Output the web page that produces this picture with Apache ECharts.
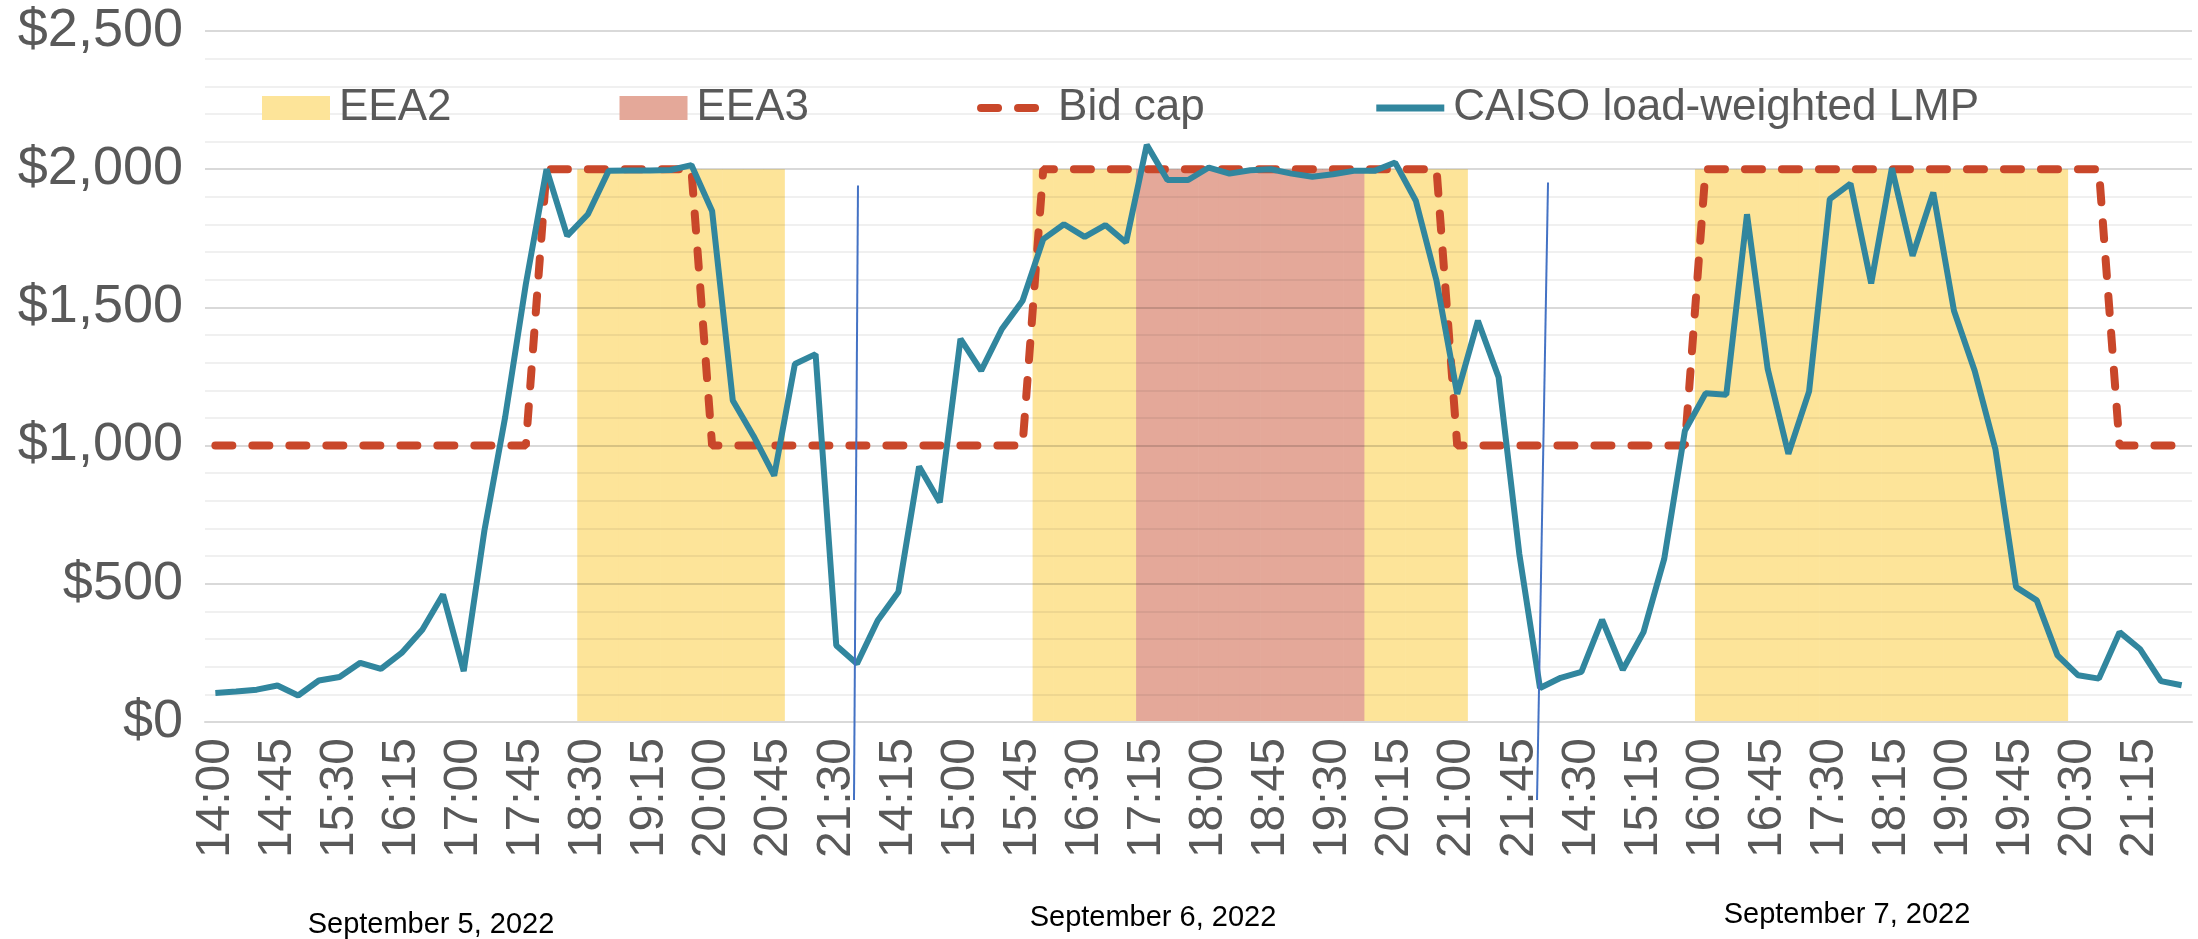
<!DOCTYPE html>
<html>
<head>
<meta charset="utf-8">
<script src="https://cdn.jsdelivr.net/npm/echarts@6/dist/echarts.min.js"></script>
<style>
  html, body { margin: 0; padding: 0; background: #fff; }
  #chart { width: 2198px; height: 939px; }
</style>
</head>
<body>
<div id="chart"></div>
<script>
// 15-minute intervals, 14:00 - 21:45, one block per day
const dayTimes = [
  "14:00", "14:15", "14:30", "14:45", "15:00", "15:15", "15:30", "15:45",
  "16:00", "16:15", "16:30", "16:45", "17:00", "17:15", "17:30", "17:45",
  "18:00", "18:15", "18:30", "18:45", "19:00", "19:15", "19:30", "19:45",
  "20:00", "20:15", "20:30", "20:45", "21:00", "21:15", "21:30", "21:45"
];
const days = ["September 5, 2022", "September 6, 2022", "September 7, 2022"];
const categories = [].concat(dayTimes, dayTimes, dayTimes);

// CAISO load-weighted LMP ($/MWh)
const lmpDay1 = [105, 110, 117, 132, 96, 150, 163, 214, 192, 250, 334, 461, 184, 693, 1102, 1584,
  2000, 1759, 1837, 1994, 1995, 1995, 1997, 2015, 1849, 1163, 1035, 891, 1295, 1331, 277, 211];
const lmpDay2 = [367, 470, 924, 795, 1386, 1271, 1422, 1524, 1747, 1801, 1755, 1798, 1735, 2088, 1961, 1961,
  2006, 1984, 1996, 2000, 1984, 1973, 1982, 1994, 1994, 2024, 1886, 1596, 1187, 1452, 1247, 608];
const lmpDay3 = [123, 160, 181, 370, 189, 325, 590, 1054, 1189, 1184, 1837, 1277, 970, 1196, 1892, 1948,
  1587, 2004, 1687, 1916, 1488, 1271, 988, 488, 440, 241, 169, 157, 325, 263, 148, 133];

// Bid cap ($/MWh)
const bidCapDay1 = [1000, 1000, 1000, 1000, 1000, 1000, 1000, 1000, 1000, 1000, 1000, 1000, 1000, 1000, 1000, 1000,
  2000, 2000, 2000, 2000, 2000, 2000, 2000, 2000, 1000, 1000, 1000, 1000, 1000, 1000, 1000, 1000];
const bidCapDay2 = [1000, 1000, 1000, 1000, 1000, 1000, 1000, 1000, 2000, 2000, 2000, 2000, 2000, 2000, 2000, 2000,
  2000, 2000, 2000, 2000, 2000, 2000, 2000, 2000, 2000, 2000, 2000, 2000, 1000, 1000, 1000, 1000];
const bidCapDay3 = [1000, 1000, 1000, 1000, 1000, 1000, 1000, 1000, 2000, 2000, 2000, 2000, 2000, 2000, 2000, 2000,
  2000, 2000, 2000, 2000, 2000, 2000, 2000, 2000, 2000, 2000, 2000, 2000, 1000, 1000, 1000, 1000];

// emergency alert shading (drawn to $2,000), '-' = no alert
const eea2Day1 = ["-", "-", "-", "-", "-", "-", "-", "-", "-", "-", "-", "-", "-", "-", "-", "-",
  "-", "-", 2000, 2000, 2000, 2000, 2000, 2000, 2000, 2000, 2000, 2000, "-", "-", "-", "-"];
const eea2Day2 = ["-", "-", "-", "-", "-", "-", "-", "-", 2000, 2000, 2000, 2000, 2000, "-", "-", "-",
  "-", "-", "-", "-", "-", "-", "-", "-", 2000, 2000, 2000, 2000, 2000, "-", "-", "-"];
const eea2Day3 = ["-", "-", "-", "-", "-", "-", "-", "-", 2000, 2000, 2000, 2000, 2000, 2000, 2000, 2000,
  2000, 2000, 2000, 2000, 2000, 2000, 2000, 2000, 2000, 2000, "-", "-", "-", "-", "-", "-"];
const eea3Day1 = new Array(32).fill("-");
const eea3Day2 = ["-", "-", "-", "-", "-", "-", "-", "-", "-", "-", "-", "-", "-", 2000, 2000, 2000,
  2000, 2000, 2000, 2000, 2000, 2000, 2000, 2000, "-", "-", "-", "-", "-", "-", "-", "-"];
const eea3Day3 = new Array(32).fill("-");

const yTicks = [0, 500, 1000, 1500, 2000, 2500];

const lmp = [].concat(lmpDay1, lmpDay2, lmpDay3);
const bidCap = [].concat(bidCapDay1, bidCapDay2, bidCapDay3);
const eea2 = [].concat(eea2Day1, eea2Day2, eea2Day3);
const eea3 = [].concat(eea3Day1, eea3Day2, eea3Day3);

const myChart = echarts.init(document.getElementById("chart"), null, { renderer: "canvas" });

const option = {
  animation: false,
  backgroundColor: "#ffffff",
  textStyle: { fontFamily: "Liberation Sans, Arial, sans-serif" },
  grid: { left: 205, right: 6, top: 31, bottom: 217 },
  legend: {
    left: 257,
    top: 81,
    itemWidth: 68,
    itemHeight: 24,
    itemGap: 168,
    textStyle: { fontSize: 44, color: "#595959", padding: [0, 0, 0, 4] },
    data: [
      { name: "EEA2", icon: "rect" },
      { name: "EEA3", icon: "rect" },
      { name: "Bid cap", itemStyle: { opacity: 0 }, lineStyle: { width: 8 } },
      { name: "CAISO load-weighted LMP", itemStyle: { opacity: 0 }, lineStyle: { width: 7 } }
    ]
  },
  xAxis: {
    type: "category",
    data: categories,
    boundaryGap: true,
    z: 3,
    axisLine: { lineStyle: { color: "#d9d9d9", width: 2 } },
    axisTick: { show: false },
    axisLabel: {
      interval: 2,
      rotate: 90,
      fontSize: 48,
      color: "#595959",
      margin: 16
    },
    splitLine: { show: false }
  },
  yAxis: {
    type: "value",
    min: yTicks[0],
    max: yTicks[yTicks.length - 1],
    interval: 500,
    z: 3,
    axisLine: { show: false },
    axisTick: { show: false },
    axisLabel: {
      fontSize: 54,
      color: "#595959",
      margin: 22,
      formatter: v => "$" + v.toLocaleString("en-US")
    },
    splitLine: { lineStyle: { color: "rgba(0,0,0,0.15)", width: 2 } },
    minorTick: { show: false, splitNumber: 5 },
    minorSplitLine: { show: true, lineStyle: { color: "rgba(0,0,0,0.06)", width: 2 } }
  },
  series: [
    {
      name: "EEA2",
      type: "bar",
      data: eea2,
      barWidth: "103%",
      barGap: "-100%",
      itemStyle: { color: "#fde499" },
      z: 1
    },
    {
      name: "EEA3",
      type: "bar",
      data: eea3,
      barWidth: "103%",
      barGap: "-100%",
      itemStyle: { color: "#e4a899" },
      z: 1
    },
    {
      name: "Bid cap",
      type: "line",
      data: bidCap,
      symbol: "none",
      lineStyle: { color: "#c9472a", width: 8, type: [17, 20], cap: "round" },
      itemStyle: { color: "#c9472a" },
      z: 4
    },
    {
      name: "CAISO load-weighted LMP",
      type: "line",
      data: lmp,
      symbol: "none",
      lineStyle: { color: "#31869e", width: 6 },
      itemStyle: { color: "#31869e" },
      z: 5
    }
  ]
};

myChart.setOption(option);

// day separators and date captions
function addDecorations() {
  const yTop1 = myChart.convertToPixel({ yAxisIndex: 0 }, 1941);
  const yTop2 = myChart.convertToPixel({ yAxisIndex: 0 }, 1952);
  const yAxis0 = myChart.convertToPixel({ yAxisIndex: 0 }, 0);
  const c1 = myChart.convertToPixel({ xAxisIndex: 0 }, 31);
  const c2 = myChart.convertToPixel({ xAxisIndex: 0 }, 64);
  const sepStyle = { stroke: "#4472c4", lineWidth: 2 };
  const dateFont = "29px Liberation Sans, Arial, sans-serif";
  myChart.setOption({
    graphic: [
      { type: "line", z: 10, shape: { x1: c1 - 3, y1: yAxis0 + 78, x2: c1 + 1, y2: yTop1 }, style: sepStyle },
      { type: "line", z: 10, shape: { x1: c2 - 3, y1: yAxis0 + 78, x2: c2 + 8, y2: yTop2 }, style: sepStyle },
      { type: "text", x: 431, y: 925, style: { text: days[0], fill: "#000", font: dateFont, textAlign: "center", textVerticalAlign: "middle" } },
      { type: "text", x: 1153, y: 918, style: { text: days[1], fill: "#000", font: dateFont, textAlign: "center", textVerticalAlign: "middle" } },
      { type: "text", x: 1847, y: 915, style: { text: days[2], fill: "#000", font: dateFont, textAlign: "center", textVerticalAlign: "middle" } }
    ]
  });
}
addDecorations();
</script>
</body>
</html>
